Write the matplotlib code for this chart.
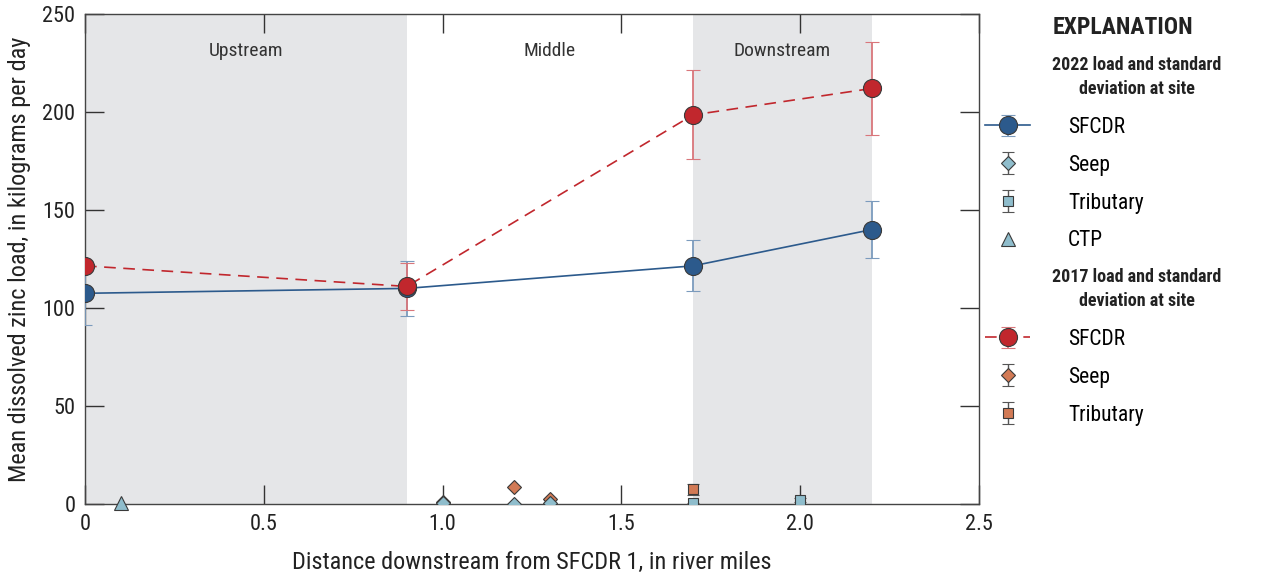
import matplotlib
matplotlib.use("Agg")
import matplotlib.pyplot as plt
from matplotlib import font_manager

# font: condensed look if available
names = set(f.name for f in font_manager.fontManager.ttflist)
fam = "Roboto"
for cand in ["Roboto Condensed", "Liberation Sans Narrow"]:
    if cand in names:
        fam = cand
        break
plt.rcParams['font.family'] = [fam, 'DejaVu Sans']

# 2022 data
sf22_x = [0.0, 0.9, 1.7, 2.2]
sf22_y = [107.5, 110.0, 121.5, 140.0]
sf22_err = [16.0, 14.0, 13.0, 14.6]
seep22_x = [1.0, 1.2, 1.3]
seep22_y = [0.3, 0.2, 0.6]
seep22_err = [0.3, 0.2, 0.4]
trib22_x = [1.7, 2.0]
trib22_y = [0.3, 2.0]
trib22_err = [0.3, 1.0]
ctp_x = [0.1]
ctp_y = [0.3]

# 2017 data
sf17_x = [0.0, 0.9, 1.7, 2.2]
sf17_y = [121.5, 111.0, 198.5, 212.0]
sf17_err = [0.0, 12.0, 22.7, 23.5]
seep17_x = [1.0, 1.2, 1.3]
seep17_y = [0.8, 8.5, 2.4]
seep17_err = [0.3, 0.5, 0.5]
trib17_x = [1.7]
trib17_y = [7.5]
trib17_err = [2.7]

regions = [(0.0, 0.9, "Upstream", True), (0.9, 1.7, "Middle", False), (1.7, 2.2, "Downstream", True)]

c_blue = "#2c5a8c"
c_blue_err = "#7b9bbd"
c_red = "#c1272d"
c_red_err = "#d9767b"
c_lblue = "#8fbdcc"
c_orange = "#d27a55"
c_edge = "#3a3a3a"

fig = plt.figure(figsize=(12.61, 5.81), dpi=100)
ax = fig.add_axes([85/1261, 77/581, 894/1261, 490/581])

for x0, x1, name, shade in regions:
    if shade:
        ax.axvspan(x0, x1, color="#e5e6e8", lw=0, zorder=0)
    ax.text((x0 + x1) / 2, 231, name, ha="center", va="center", fontsize=14, color="#333333")

small = dict(ls="none", capsize=4, ecolor="#555555", elinewidth=1, mec=c_edge, mew=0.8, zorder=4)

h_sf22 = ax.errorbar(sf22_x, sf22_y, yerr=sf22_err, color=c_blue, lw=1.2, marker="o", ms=13,
                     mfc=c_blue, mec=c_edge, mew=0.8, ecolor=c_blue_err, elinewidth=1.3, capsize=5, zorder=5)
h_sf17 = ax.errorbar(sf17_x, sf17_y, yerr=sf17_err, color=c_red, lw=1.2, ls=(0, (7, 4.5)), marker="o", ms=13,
                     mfc=c_red, mec=c_edge, mew=0.8, ecolor=c_red_err, elinewidth=1.3, capsize=5, zorder=5)
for bar in h_sf17[2]:
    bar.set_linestyle("-")

h_seep17 = ax.errorbar(seep17_x, seep17_y, yerr=seep17_err, marker="D", ms=7, mfc=c_orange, **small)
h_trib17 = ax.errorbar(trib17_x, trib17_y, yerr=trib17_err, marker="s", ms=7, mfc=c_orange, **small)
h_seep22 = ax.errorbar(seep22_x, seep22_y, yerr=seep22_err, marker="D", ms=7, mfc=c_lblue, **small)
h_trib22 = ax.errorbar(trib22_x, trib22_y, yerr=trib22_err, marker="s", ms=7, mfc=c_lblue, **small)
h_ctp, = ax.plot(ctp_x, ctp_y, ls="none", marker="^", ms=10, mfc=c_lblue, mec=c_edge, mew=0.8, zorder=4,
                 clip_on=False)

ax.set_xlim(0, 2.5)
ax.set_ylim(0, 250)
ax.set_xticks([0, 0.5, 1.0, 1.5, 2.0, 2.5])
ax.set_xticklabels(["0", "0.5", "1.0", "1.5", "2.0", "2.5"])
ax.set_yticks([0, 50, 100, 150, 200, 250])
ax.tick_params(direction="in", length=13.5, width=1, top=True, right=True, labelsize=16, pad=7,
               color="#333333", labelcolor="#222222")
for s in ax.spines.values():
    s.set_color("#444444")
    s.set_linewidth(1)
ax.set_xlabel("Distance downstream from SFCDR 1, in river miles", fontsize=17.5, color="#222222")
ax.set_ylabel("Mean dissolved zinc load, in kilograms per day", fontsize=17.5, color="#222222")
ax.xaxis.set_label_coords(0.5, -47/490, transform=ax.transAxes)
ax.yaxis.set_label_coords(-54/894, 0.5, transform=ax.transAxes)

# explanation
fig.text(1123/1261, 1 - 27/581, "EXPLANATION", ha="center", va="center", fontsize=17, fontweight="bold",
         color="#222222")
fig.text(1137/1261, 1 - 77/581, "2022 load and standard\ndeviation at site", ha="center", va="center",
         fontsize=13, fontweight="bold", color="#222222", linespacing=1.4)
fig.text(1137/1261, 1 - 289/581, "2017 load and standard\ndeviation at site", ha="center", va="center",
         fontsize=13, fontweight="bold", color="#222222", linespacing=1.4)
kw = dict(frameon=False, fontsize=15.5, handlelength=2.1, handletextpad=1.75, labelspacing=0.78,
          borderpad=0, borderaxespad=0, loc="upper left")
leg1 = fig.legend([h_sf22, h_seep22, h_trib22, h_ctp], ["SFCDR", "Seep", "Tributary", "CTP"],
                  bbox_to_anchor=(985/1261, 1 - 117/581), **kw)
leg2 = fig.legend([h_sf17, h_seep17, h_trib17], ["SFCDR", "Seep", "Tributary"],
                  bbox_to_anchor=(985/1261, 1 - 329/581), **kw)

fig.savefig("out.png", dpi=100)
